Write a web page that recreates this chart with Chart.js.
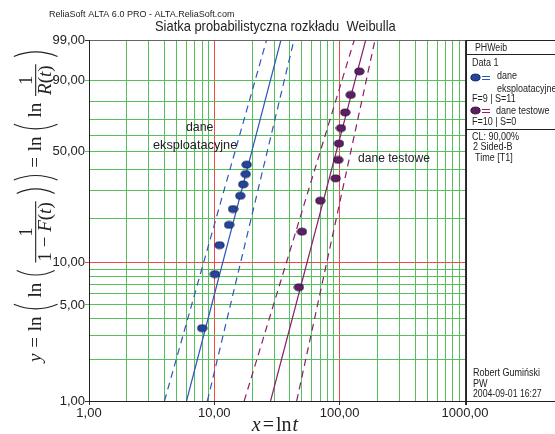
<!DOCTYPE html>
<html>
<head>
<meta charset="utf-8">
<script src="https://cdn.jsdelivr.net/npm/chart.js@4.4.1/dist/chart.umd.min.js"></script>
<style>
  html, body { margin: 0; padding: 0; background: #fff; }
  #wrap { width: 555px; height: 434px; }
</style>
</head>
<body>
<div id="wrap"><canvas id="weibullChart" width="555" height="434"></canvas></div>
<script>
// dane eksploatacyjne (F=9 | S=11): czas i niezawodność F [%]
const ekspTimes = [8.0, 10.1, 11.0, 13.1, 14.1, 16.1, 17.0, 17.8, 18.1];
const ekspF = [3.4, 8.3, 13.2, 18.1, 23.0, 27.9, 32.8, 37.7, 42.6];

// dane testowe (F=10 | S=0)
const testTimes = [47.3, 50.0, 70.0, 92.9, 97.4, 98.7, 102.4, 110.8, 122.4, 143.4];
const testF = [6.7, 16.3, 26.0, 35.6, 45.2, 54.8, 64.4, 74.0, 83.7, 93.3];

// linie dopasowania i granice ufności (CL 90%, 2-sided) - czas przy F=1% i F=99%
const lineF = [1, 99];
const ekspFit = [6.0, 34.0];
const ekspLower = [4.0, 26.1];
const ekspUpper = [8.8, 43.2];
const testFit = [28.1, 161.3];
const testLower = [17.3, 130.8];
const testUpper = [45.4, 191.4];

// podziałki osi
const xTicks = [1, 2, 3, 4, 5, 6, 7, 8, 9, 10, 20, 30, 40, 50, 60, 70, 80, 90,
                100, 200, 300, 400, 500, 600, 700, 800, 900, 1000];
const xLabelTicks = [1, 10, 100, 1000];
const yTicks = [1, 2, 3, 4, 5, 6, 7, 8, 9, 10, 20, 30, 40, 50, 60, 70, 80, 90, 99];
const yLabelTicks = [1, 5, 10, 50, 90, 99];

const GREEN = '#55bf5c';
const RED = '#f04848';
const BLUE = '#2f56b8';
const PURPLE = '#8c1c6e';
const SANS = '"Liberation Sans", Arial, sans-serif';
const SERIF = '"Liberation Serif", "DejaVu Serif", serif';

// transformacja Weibulla: y = ln(ln(1/(1-F)))
const wy = p => Math.log(-Math.log(1 - p / 100));
const toPts = (times, F) => times.map((t, i) => ({ x: t, y: wy(F[i]) }));
const fmt = v => v.toFixed(2).replace('.', ',');

function makeDot(fill, stroke) {
    const c = document.createElement('canvas');
    c.width = 11; c.height = 9;
    const g = c.getContext('2d');
    g.beginPath();
    g.ellipse(5.5, 4.5, 4.6, 3.4, 0, 0, Math.PI * 2);
    g.fillStyle = fill; g.fill();
    g.lineWidth = 1; g.strokeStyle = stroke; g.stroke();
    return c;
}
const dotBlue = makeDot('#26449a', '#12255e');
const dotPurple = makeDot('#5c1f63', '#361139');

function lineSet(times, color, dashed) {
    return {
        data: toPts(times, lineF),
        showLine: true,
        borderColor: color,
        borderWidth: 1.2,
        borderDash: dashed ? [7, 5] : [],
        pointRadius: 0,
        order: 1
    };
}

// tekst dopasowany do szerokości (czcionka programu jest węższa)
function text(ctx, s, x, y, font, sx, color) {
    ctx.save();
    ctx.font = font;
    ctx.fillStyle = color || '#222';
    ctx.textBaseline = 'middle';
    ctx.textAlign = 'left';
    ctx.translate(x, y);
    ctx.scale(sx || 1, 1);
    ctx.fillText(s, 0, 0);
    ctx.restore();
}

function paren(ctx, x, w, axis, h, open) {
    ctx.beginPath();
    if (open) {
        ctx.moveTo(x + w * 0.85, axis - h / 2);
        ctx.quadraticCurveTo(x - w * 0.35, axis, x + w * 0.85, axis + h / 2);
    } else {
        ctx.moveTo(x + w * 0.15, axis - h / 2);
        ctx.quadraticCurveTo(x + w * 1.35, axis, x + w * 0.15, axis + h / 2);
    }
    ctx.stroke();
}

function drawYTitle(ctx) {
    const fs = 19;
    const norm = fs + 'px ' + SERIF, ital = 'italic ' + norm;
    const axis = -fs * 0.28;
    const parts = [
        ['t', [['y', ital]]], ['t', [['=', norm]]], ['t', [['ln', norm]]],
        ['p', true, 2.3], ['t', [['ln', norm]]], ['p', true, 2.0],
        ['f', [['1', norm]], [['1 \u2212 ', norm], ['F', ital], ['(', norm], ['t', ital], [')', norm]]],
        ['p', false, 2.0], ['p', false, 2.3], ['t', [['=', norm]]], ['t', [['ln', norm]]],
        ['p', true, 2.3], ['t', [['ln', norm]]],
        ['f', [['1', norm]], [['R', ital], ['(', norm], ['t', ital], [')', norm]]],
        ['p', false, 2.3]
    ];
    const runW = run => run.reduce((w, r) => { ctx.font = r[1]; return w + ctx.measureText(r[0]).width; }, 0);
    const pw = fs * 0.4;
    const widthOf = p => p[0] === 't' ? runW(p[1]) : p[0] === 'p' ? pw
        : Math.max(runW(p[1]), runW(p[2])) + 4;
    const total = parts.reduce((s, p) => s + widthOf(p), 0);
    const gap = (312 - total) / (parts.length - 1);

    const drawRun = (run, x, y) => {
        run.forEach(r => { ctx.font = r[1]; ctx.fillText(r[0], x, y); x += ctx.measureText(r[0]).width; });
    };
    ctx.save();
    ctx.translate(41, 362);
    ctx.rotate(-Math.PI / 2);
    ctx.fillStyle = '#222';
    ctx.strokeStyle = '#222';
    ctx.lineWidth = 1.1;
    ctx.textBaseline = 'alphabetic';
    let x = 0;
    parts.forEach(p => {
        const w = widthOf(p);
        if (p[0] === 't') drawRun(p[1], x, 0);
        else if (p[0] === 'p') paren(ctx, x, pw, axis, fs * p[2], p[1]);
        else if (p[0] === 'f') {
            const nw = runW(p[1]), dw = runW(p[2]);
            drawRun(p[1], x + (w - nw) / 2, axis - 4);
            drawRun(p[2], x + (w - dw) / 2, axis + fs * 0.8);
            ctx.beginPath();
            ctx.moveTo(x + 1, axis); ctx.lineTo(x + w - 1, axis);
            ctx.stroke();
        }
        x += w + gap;
    });
    ctx.restore();
}

function drawXTitle(ctx) {
    const norm = '20px ' + SERIF, ital = 'italic ' + norm;
    const run = [['x', ital, 2], ['=', norm, 2], ['ln', norm, 1], ['t', ital, 0]];
    let w = 0;
    run.forEach(r => { ctx.font = r[1]; w += ctx.measureText(r[0]).width + r[2]; });
    let x = 275 - w / 2;
    ctx.save();
    ctx.fillStyle = '#222';
    ctx.textBaseline = 'alphabetic';
    run.forEach(r => { ctx.font = r[1]; ctx.fillText(r[0], x, 431); x += ctx.measureText(r[0]).width + r[2]; });
    ctx.restore();
}

const annotations = {
    id: 'annotations',
    afterDraw(chart) {
        const ctx = chart.ctx;
        // nagłówek
        text(ctx, 'ReliaSoft ALTA 6.0 PRO - ALTA.ReliaSoft.com', 49, 14, '9.5px ' + SANS, 0.95);
        text(ctx, 'Siatka probabilistyczna rozkładu  Weibulla', 155, 27, '15px ' + SANS, 0.86);

        // opisy serii na wykresie
        text(ctx, 'dane', 186, 127, '13px ' + SANS, 0.95);
        text(ctx, 'eksploatacyjne', 153, 145, '13px ' + SANS, 0.98);
        text(ctx, 'dane testowe', 358, 158, '13px ' + SANS, 0.93);

        // panel po prawej
        ctx.save();
        ctx.strokeStyle = '#222';
        ctx.lineWidth = 1;
        ctx.beginPath();
        ctx.moveTo(466.5, 40); ctx.lineTo(466.5, 405);
        ctx.moveTo(466, 40.5); ctx.lineTo(555, 40.5);
        ctx.moveTo(466, 54.5); ctx.lineTo(555, 54.5);
        ctx.moveTo(466, 129.5); ctx.lineTo(555, 129.5);
        ctx.moveTo(466, 401.5); ctx.lineTo(555, 401.5);
        ctx.stroke();
        ctx.restore();

        const f = '10px ' + SANS;
        text(ctx, 'PHWeib', 475, 48, f, 0.88);
        text(ctx, 'Data 1', 472, 63, f, 0.9);
        ctx.drawImage(dotBlue, 470, 73);
        ctx.drawImage(dotPurple, 470, 106);
        ctx.save();
        ctx.lineWidth = 1;
        [[BLUE, 76.5, 79.5], [PURPLE, 109.5, 112.5]].forEach(m => {
            ctx.strokeStyle = m[0];
            ctx.beginPath();
            ctx.moveTo(482, m[1]); ctx.lineTo(490, m[1]);
            ctx.moveTo(482, m[2]); ctx.lineTo(490, m[2]);
            ctx.stroke();
        });
        ctx.restore();
        text(ctx, 'dane', 497, 76, f, 0.9);
        text(ctx, 'eksploatacyjne', 497, 89, f, 0.9);
        text(ctx, 'F=9 | S=11', 472, 99, f, 0.9);
        text(ctx, 'dane testowe', 496, 111, f, 0.9);
        text(ctx, 'F=10 | S=0', 472, 122, f, 0.9);
        text(ctx, 'CL: 90,00%', 472, 137, f, 0.9);
        text(ctx, '2 Sided-B', 473, 147, f, 0.9);
        text(ctx, 'Time [T1]', 475, 158, f, 0.9);
        text(ctx, 'Robert Gumiński', 473, 373, f, 0.9);
        text(ctx, 'PW', 473, 384, f, 0.9);
        text(ctx, '2004-09-01 16:27', 473, 394, f, 0.87);

        drawYTitle(ctx);
        drawXTitle(ctx);
    }
};

new Chart(document.getElementById('weibullChart'), {
    type: 'scatter',
    data: {
        datasets: [
            { label: 'dane eksploatacyjne', data: toPts(ekspTimes, ekspF), pointStyle: dotBlue, pointRadius: 4, order: 0 },
            lineSet(ekspFit, BLUE, false),
            lineSet(ekspLower, BLUE, true),
            lineSet(ekspUpper, BLUE, true),
            { label: 'dane testowe', data: toPts(testTimes, testF), pointStyle: dotPurple, pointRadius: 4, order: 0 },
            lineSet(testFit, PURPLE, false),
            lineSet(testLower, PURPLE, true),
            lineSet(testUpper, PURPLE, true)
        ]
    },
    options: {
        responsive: false,
        animation: false,
        events: [],
        layout: { padding: { top: 40, right: 90, left: 0, bottom: 0 } },
        plugins: { legend: { display: false }, tooltip: { enabled: false } },
        scales: {
            x: {
                type: 'logarithmic',
                min: 1,
                max: 1000,
                afterBuildTicks: s => { s.ticks = xTicks.map(v => ({ value: v })); },
                afterFit: s => { s.height = 33; },
                ticks: {
                    autoSkip: false,
                    maxRotation: 0,
                    padding: 1,
                    color: '#222',
                    font: { family: SANS, size: 13 },
                    callback: v => xLabelTicks.includes(v) ? fmt(v) : ''
                },
                grid: {
                    lineWidth: 1,
                    tickLength: 4,
                    color: c => {
                        const v = c.tick.value;
                        if (v === 1) return 'rgba(0,0,0,0)';
                        if (v === 10 || v === 100) return RED;
                        if (v === 1000) return '#333';
                        return GREEN;
                    },
                    tickColor: c => xLabelTicks.includes(c.tick.value) ? '#333' : 'rgba(0,0,0,0)'
                },
                border: { color: '#222', width: 1 }
            },
            y: {
                type: 'linear',
                min: wy(1),
                max: wy(99),
                afterBuildTicks: s => { s.ticks = yTicks.map(p => ({ value: wy(p) })); },
                afterFit: s => { s.width = 89; },
                ticks: {
                    autoSkip: false,
                    padding: 0,
                    color: '#222',
                    font: { family: SANS, size: 13 },
                    callback: (v, i) => yLabelTicks.includes(yTicks[i]) ? fmt(yTicks[i]) : ''
                },
                grid: {
                    lineWidth: 1,
                    tickLength: 4,
                    color: c => {
                        const p = yTicks[c.index];
                        if (p === 1) return 'rgba(0,0,0,0)';
                        if (p === 10) return RED;
                        if (p === 99) return '#666';
                        return GREEN;
                    },
                    tickColor: c => {
                        const p = yTicks[c.index];
                        if (!yLabelTicks.includes(p)) return 'rgba(0,0,0,0)';
                        return p === 10 ? RED : p === 5 || p === 50 || p === 90 ? GREEN : '#333';
                    }
                },
                border: { color: '#222', width: 1 }
            }
        }
    },
    plugins: [annotations]
});
</script>
</body>
</html>
